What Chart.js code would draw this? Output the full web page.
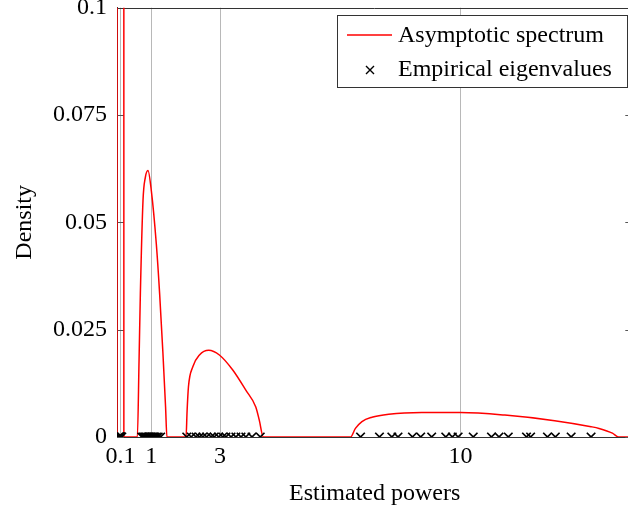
<!DOCTYPE html>
<html>
<head>
<meta charset="utf-8">
<script src="https://cdn.jsdelivr.net/npm/chart.js@4.4.0/dist/chart.umd.min.js"></script>
<style>
  html, body { margin: 0; padding: 0; overflow: hidden; background: #fff; }
  canvas { display: block; }
</style>
</head>
<body>
<canvas id="myChart" width="640" height="516"></canvas>
<script>
// asymptotic spectrum: estimated power -> density
const spectrumX = [0, 0.005, 0.1, 0.195, 0.2,
  0.593, 0.642, 0.68, 0.757, 0.825, 0.902, 0.999, 1.144, 1.241, 1.337, 1.414, 1.453,
  2.01, 2.04, 2.08, 2.21, 2.40, 2.67, 2.98, 3.37, 3.75, 4.04, 4.14, 4.26,
  6.80, 6.94, 7.13, 7.42, 7.91, 8.87, 10.0, 11.29, 12.74, 13.80, 14.03, 14.42, 14.6, 15];
const spectrumY = [0, 0.6, 0.6, 0.6, 0,
  0, 0.0179, 0.0334, 0.0551, 0.0605, 0.0621, 0.0574, 0.0450, 0.0334, 0.0195, 0.0070, 0,
  0, 0.006, 0.0117, 0.0164, 0.0191, 0.0202, 0.0191, 0.0156, 0.0109, 0.0070, 0.0040, 0,
  0, 0.0020, 0.0036, 0.0046, 0.0053, 0.0057, 0.0057, 0.0051, 0.0038, 0.0024, 0.0020, 0.0009, 0, 0];

// empirical eigenvalues (all drawn on the zero line)
const eigenvalues = [0.05, 0.07, 0.08, 0.09, 0.10, 0.11, 0.12, 0.14,
  0.72, 0.76, 0.80, 0.83, 0.86, 0.90, 0.93, 0.96, 1.00, 1.03, 1.07, 1.10, 1.15, 1.20, 1.27,
  2.03, 2.16, 2.30, 2.40, 2.50, 2.61, 2.74, 2.83, 2.96, 3.08, 3.17, 3.32, 3.46, 3.61, 3.75, 3.93, 4.17,
  7.09, 7.64, 8.00, 8.18, 8.60, 8.84, 9.16, 9.57, 9.76, 9.93, 10.37, 10.90, 11.12, 11.39,
  11.92, 12.04, 12.53, 12.76, 13.22, 13.80];

const xTicks = [0.1, 1, 3, 10];
const yTicks = [0, 0.025, 0.05, 0.075, 0.1];
const seriesLabels = ['Asymptotic spectrum', 'Empirical eigenvalues'];

Chart.defaults.font.family = "'Liberation Serif', serif";
Chart.defaults.font.size = 24;
Chart.defaults.color = '#000';

// top/right frame and inner y tick marks
const frame = {
  id: 'frame',
  beforeDatasetsDraw(chart) {
    const {ctx, chartArea: a, scales} = chart;
    ctx.save();
    ctx.strokeStyle = '#555';
    ctx.lineWidth = 1;
    ctx.beginPath();
    yTicks.forEach(v => {
      const y = Math.round(scales.y.getPixelForValue(v)) + 0.5;
      ctx.moveTo(a.left, y); ctx.lineTo(a.left + 7, y);
      ctx.moveTo(a.right - 7, y); ctx.lineTo(a.right, y);
    });
    ctx.stroke();
    ctx.strokeStyle = '#333';
    ctx.beginPath();
    ctx.moveTo(a.left, Math.round(a.top) + 0.5);
    ctx.lineTo(a.right, Math.round(a.top) + 0.5);
    ctx.lineTo(a.right, a.bottom);
    ctx.stroke();
    ctx.restore();
  }
};

// boxed legend in the top right corner
const legendBox = {
  id: 'legendBox',
  afterDraw(chart) {
    const ctx = chart.ctx;
    const x0 = 337.5, y0 = 15.5, w = 290, h = 72;
    ctx.save();
    ctx.fillStyle = '#fff';
    ctx.fillRect(x0, y0, w, h);
    ctx.strokeStyle = '#333';
    ctx.lineWidth = 1;
    ctx.strokeRect(x0, y0, w, h);

    ctx.strokeStyle = 'red';
    ctx.lineWidth = 1.5;
    ctx.beginPath();
    ctx.moveTo(347, 35); ctx.lineTo(392, 35);
    ctx.stroke();

    ctx.strokeStyle = '#000';
    ctx.lineWidth = 1.4;
    ctx.beginPath();
    ctx.moveTo(366, 66); ctx.lineTo(374, 74);
    ctx.moveTo(374, 66); ctx.lineTo(366, 74);
    ctx.stroke();

    ctx.fillStyle = '#000';
    ctx.font = "24px 'Liberation Serif', serif";
    ctx.textBaseline = 'alphabetic';
    ctx.fillText(chart.data.datasets[1].label, 398, 42);
    ctx.fillText(chart.data.datasets[0].label, 398, 76);
    ctx.restore();
  }
};

new Chart(document.getElementById('myChart'), {
  type: 'scatter',
  data: {
    datasets: [{
      label: seriesLabels[1],
      data: eigenvalues.map(v => ({x: v, y: 0})),
      pointStyle: 'crossRot',
      pointRadius: 6,
      pointBorderWidth: 1.7,
      borderColor: '#000',
      backgroundColor: '#000',
      order: 1
    }, {
      label: seriesLabels[0],
      data: spectrumX.map((v, i) => ({x: v, y: spectrumY[i]})),
      showLine: true,
      borderColor: 'red',
      borderWidth: 1.5,
      pointRadius: 0,
      cubicInterpolationMode: 'monotone',
      order: 2
    }]
  },
  options: {
    responsive: false,
    animation: false,
    layout: { padding: { top: 7, right: 5, left: 0, bottom: 0 } },
    plugins: { legend: { display: false }, tooltip: { enabled: false } },
    scales: {
      x: {
        type: 'linear',
        min: 0,
        max: 15,
        afterBuildTicks: s => { s.ticks = xTicks.map(v => ({value: v})); },
        afterFit: s => { s.height = 79; s.paddingLeft = 0; s.paddingRight = 0; },
        ticks: { padding: 5, maxRotation: 0, callback: v => String(v) },
        grid: { color: '#b8b8b8', lineWidth: 1, drawTicks: false },
        border: { color: '#333', width: 1 },
        title: { display: true, text: 'Estimated powers', padding: { top: 0, bottom: 8 } }
      },
      y: {
        min: 0,
        max: 0.1,
        afterBuildTicks: s => { s.ticks = yTicks.map(v => ({value: v})); },
        afterFit: s => { s.width = 117; s.paddingTop = 0; s.paddingBottom = 0; },
        ticks: { padding: 10, callback: v => String(+v.toFixed(3)) },
        grid: { drawOnChartArea: false, drawTicks: false },
        border: { color: '#333', width: 1 },
        title: { display: true, text: 'Density', padding: { top: 10, bottom: 0 } }
      }
    }
  },
  plugins: [frame, legendBox]
});
</script>
</body>
</html>
